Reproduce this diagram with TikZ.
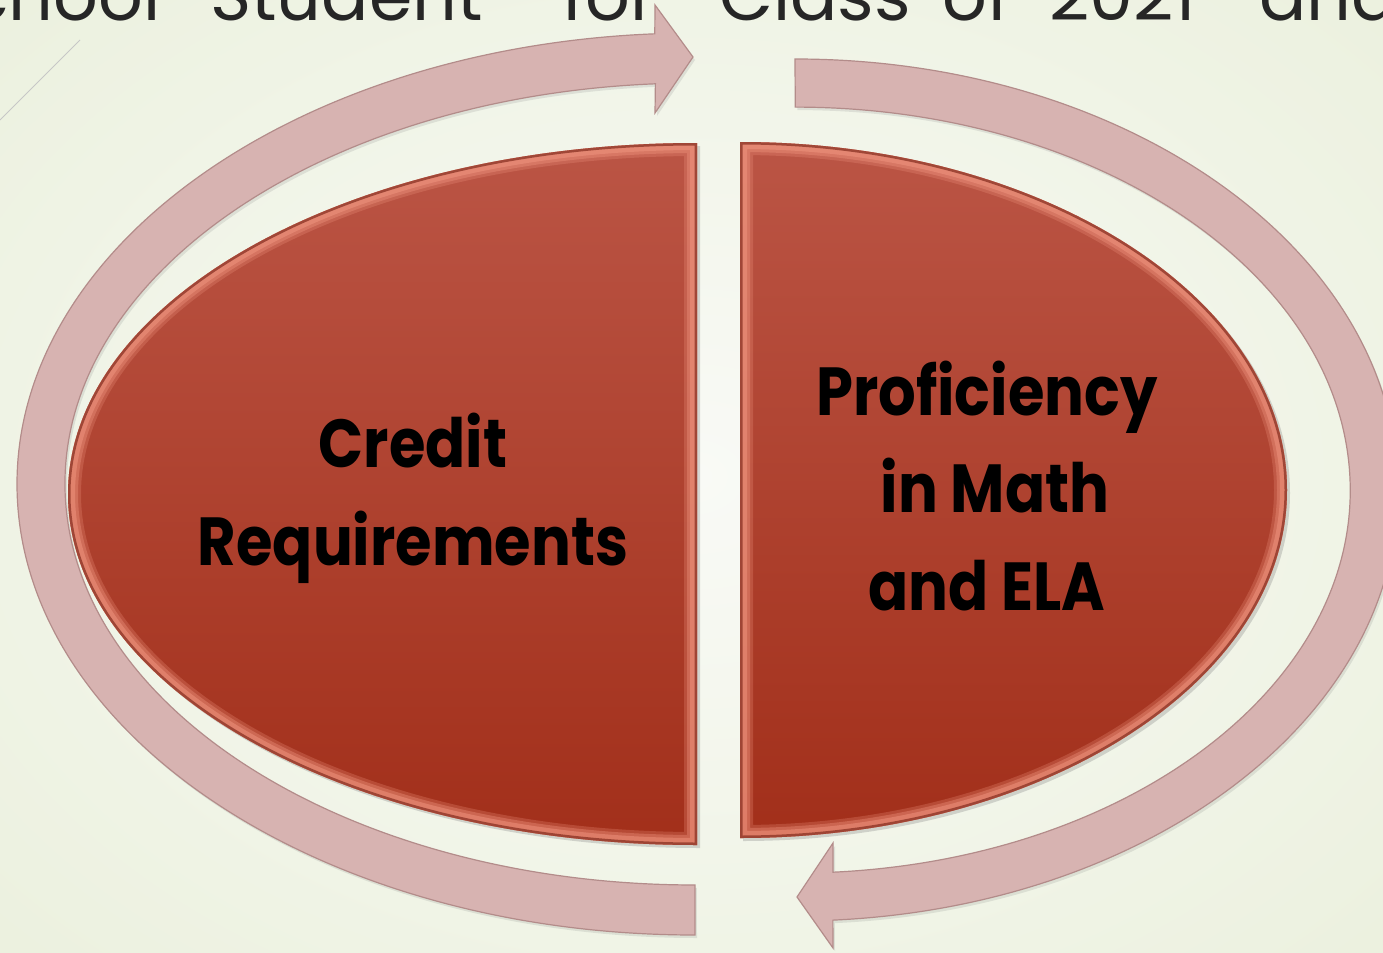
\documentclass[tikz,border=0pt]{standalone}
\usepackage{fontspec}
\setmainfont{Poppins}
\usetikzlibrary{shadows}
\definecolor{bgin}{HTML}{F9FAF6}
\definecolor{bgout}{HTML}{E9EFDA}
\definecolor{redtop}{HTML}{BB5545}
\definecolor{redbot}{HTML}{A22F1A}
\definecolor{bevel}{HTML}{F49A84}
\definecolor{edgec}{HTML}{8A3224}
\definecolor{arrowfill}{HTML}{D7B3B1}
\definecolor{arrowline}{HTML}{B38C8A}
\newcommand{\lblscale}[1]{\scalebox{0.87}[1]{#1}}
\tikzset{
  halfshape/.style={top color=redtop, bottom color=redbot,
    drop shadow={opacity=0.3, shadow xshift=1.5pt, shadow yshift=-1.5pt}},
  ringarrow/.style={fill=arrowfill, draw=arrowline, line width=0.6pt,
    drop shadow={opacity=0.18, shadow xshift=1pt, shadow yshift=-1.5pt}},
  lbl/.style={font=\bfseries\fontsize{34}{40}\selectfont, text=black, anchor=base, inner sep=0pt},
  ttl/.style={font=\fontsize{35}{40}\selectfont, text=black!85, inner sep=0pt},
}
\begin{document}
\begin{tikzpicture}[x=0.5pt, y=-0.5pt]
\useasboundingbox (0,0) rectangle (1383,953);
\clip (0,0) rectangle (1383,953);
\shade[inner color=bgin, outer color=bgout] (-450,-350) rectangle (1833,1303);
\draw[black!22, line width=0.5pt] (80,40) -- (0,120);
% title fragments
\node[ttl, anchor=base east] (t1) at (161,20) {School};
\node[ttl, anchor=base west] (t2) at (210,20) {Student};
\node[ttl, anchor=base west] (t3) at (562,20) {for};
\node[ttl, anchor=base west] (t4) at (719,20) {Class};
\node[ttl, anchor=base west] (t5) at (942,20) {of};
\node[ttl, anchor=base west] (t6) at (1049,20) {2021};
\node[ttl, anchor=base west] (t7) at (1259,20) {and};
% ring arrows
\path[ringarrow] (695,935) arc[start angle=90, end angle=266.6, x radius=678, y radius=451]
  -- (655,5) -- (693,57) -- (655,113) -- (655.4,83.8)
  arc[start angle=266.4, end angle=90, x radius=630, y radius=401] -- cycle;
\path[ringarrow] (795,59) arc[start angle=270, end angle=446.4, x radius=603, y radius=431]
  -- (833,948) -- (797,897) -- (833,843) -- (833,872.2)
  arc[start angle=86.1, end angle=-90, x radius=555, y radius=383] -- cycle;
% half ellipses
\def\leftshape{(697,143) arc[start angle=270, end angle=90, x radius=629, y radius=351] -- cycle}
\def\rightshape{(740,142) arc[start angle=-90, end angle=90, x radius=547, y radius=348] -- cycle}
\path[halfshape] \leftshape;
\begin{scope}
  \clip \leftshape;
  \draw[bevel, opacity=0.25, line width=13pt] \leftshape;
  \draw[bevel, opacity=0.35, line width=10pt] \leftshape;
  \draw[bevel, opacity=0.45, line width=7pt] \leftshape;
  \draw[edgec, opacity=0.75, line width=2.5pt] \leftshape;
\end{scope}
\path[halfshape] \rightshape;
\begin{scope}
  \clip \rightshape;
  \draw[bevel, opacity=0.25, line width=13pt] \rightshape;
  \draw[bevel, opacity=0.35, line width=10pt] \rightshape;
  \draw[bevel, opacity=0.45, line width=7pt] \rightshape;
  \draw[edgec, opacity=0.75, line width=2.5pt] \rightshape;
\end{scope}
% labels
\node[lbl] (c1) at (413,467) {\lblscale{Credit}};
\node[lbl] (c2) at (413,565) {\lblscale{Requirements}};
\node[lbl] (p1) at (987,415) {\lblscale{Proficiency}};
\node[lbl] (p2) at (995,512) {\lblscale{in Math}};
\node[lbl] (p3) at (987,610) {\lblscale{and ELA}};
\end{tikzpicture}
\end{document}
